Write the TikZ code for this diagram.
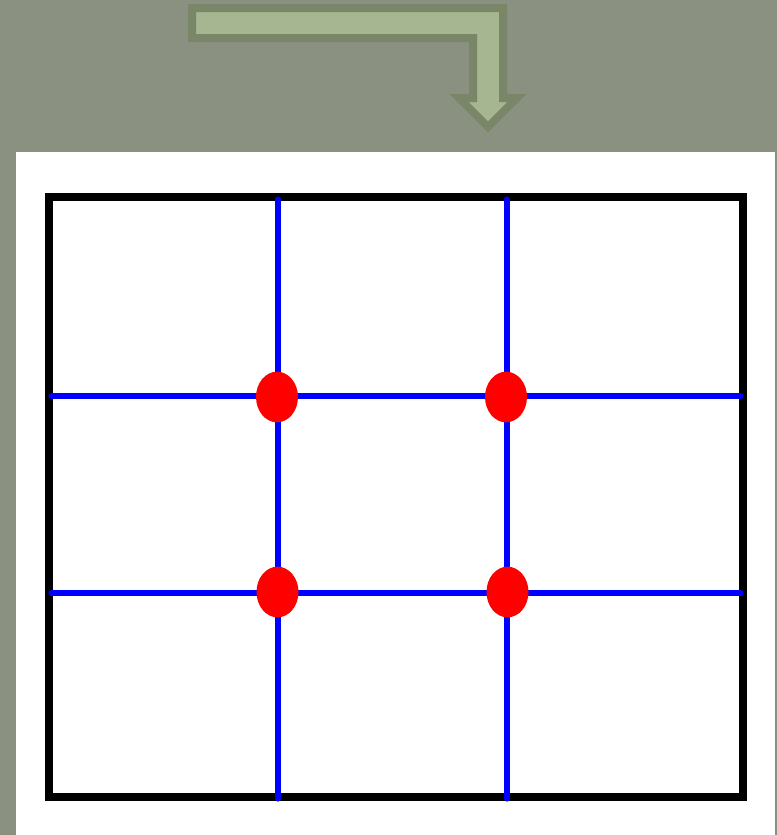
\documentclass[tikz,border=0pt]{standalone}
\usepackage{xcolor}
\usepackage{tikz}
\usetikzlibrary{positioning, shapes.geometric}
\definecolor{SlideBg}{RGB}{139,145,128}
\definecolor{ArrowFill}{RGB}{166,182,144}
\definecolor{ArrowEdge}{RGB}{121,134,104}
\definecolor{GridBlue}{RGB}{0,0,255}
\definecolor{DotRed}{RGB}{255,0,0}
\tikzset{
    frame/.style={draw=black, line width=6pt},
    thirdline/.style={draw=GridBlue, line width=3.8pt, line cap=round},
    dot/.style={
        ellipse,
        fill=DotRed,
        inner sep=0pt,
        minimum width=31.5pt,
        minimum height=38pt
    },
    bentarrow/.style={draw=ArrowEdge, fill=ArrowFill, line width=6pt, line join=miter}
}

\begin{document}
\begin{tikzpicture}[x=0.75pt, y=-0.75pt]

% Background
\fill[SlideBg] (0,0) rectangle (777,835);
\useasboundingbox (0,0) rectangle (777,835);

% Bent arrow
\draw[bentarrow] (192,8) -- (503,8) -- (503,98) -- (517,98) -- (488,127)
    -- (459,98) -- (473,98) -- (473,38) -- (192,38) -- cycle;

% White sheet
\fill[white] (16,152) rectangle (775,835);

% Frame
\coordinate (tl) at (49,197);
\coordinate (br) at (743,797);
\draw[frame] (tl) rectangle (br);

% Grid lines (thirds)
\coordinate (v1t) at (278,199);
\coordinate (v1b) at (278,799);
\coordinate (v2t) at (507,199);
\coordinate (v2b) at (507,799);
\coordinate (h1l) at (51,396);
\coordinate (h1r) at (741,396);
\coordinate (h2l) at (51,593);
\coordinate (h2r) at (741,593);

\draw[thirdline] (v1t) -- (v1b);
\draw[thirdline] (v2t) -- (v2b);
\draw[thirdline] (h1l) -- (h1r);
\draw[thirdline] (h2l) -- (h2r);

% Power points
\node[dot] (p11) at (277,397) {};
\node[dot] (p12) at (506,397) {};
\node[dot] (p21) at (277.5,592) {};
\node[dot] (p22) at (507.5,592) {};

\end{tikzpicture}
\end{document}
